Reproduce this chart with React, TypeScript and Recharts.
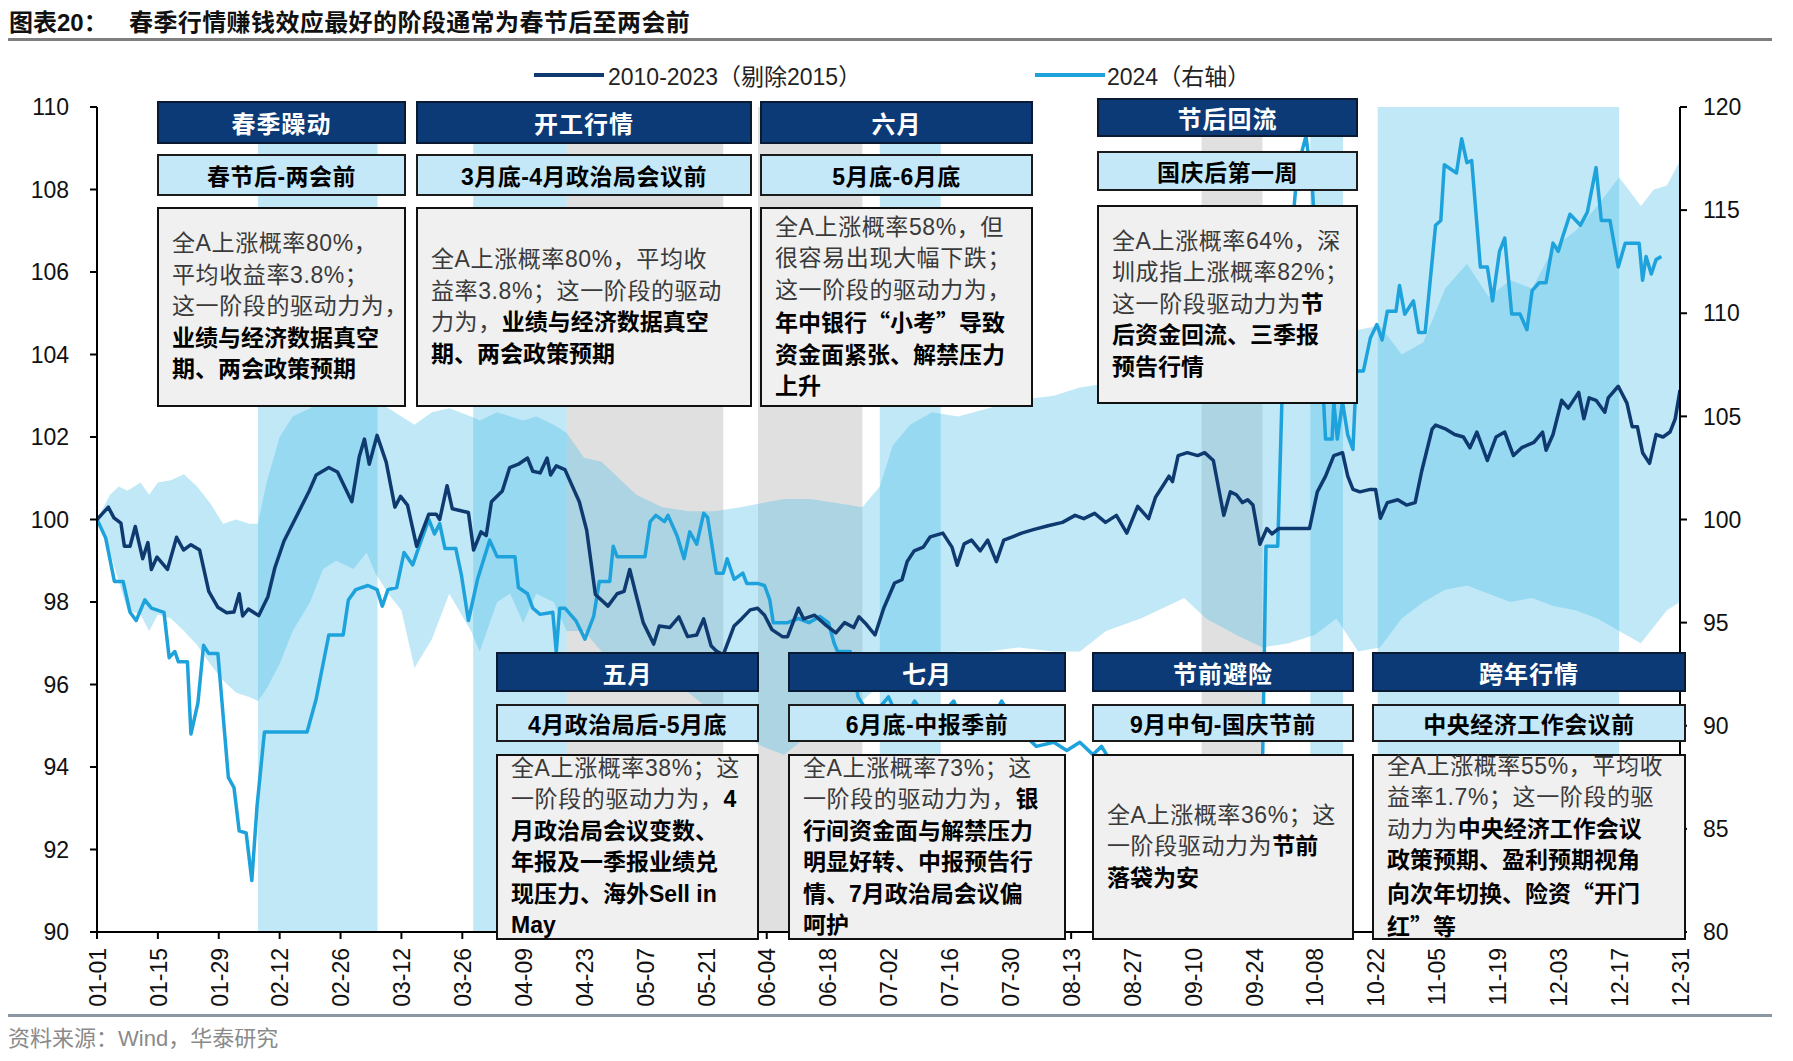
import React from "react";
import { ComposedChart, Line, Area, XAxis, YAxis, ReferenceArea } from "recharts";

// x axis: day of year (0 = 01-01), ticks every 14 days
const tickDays = [0, 14, 28, 42, 56, 70, 84, 98, 112, 126, 140, 154, 168, 182, 196, 210, 224, 238, 252, 266, 280, 294, 308, 322, 336, 350, 364];
const tickLabels = ["01-01", "01-15", "01-29", "02-12", "02-26", "03-12", "03-26", "04-09", "04-23", "05-07", "05-21", "06-04", "06-18", "07-02", "07-16", "07-30", "08-13", "08-27", "09-10", "09-24", "10-08", "10-22", "11-05", "11-19", "12-03", "12-17", "12-31"];
const leftTicks = [90, 92, 94, 96, 98, 100, 102, 104, 106, 108, 110];
const rightTicks = [80, 85, 90, 95, 100, 105, 110, 115, 120];

// 2010-2023 (excl. 2015) average path, left axis: [day, value]
const avgSeries: number[][] = [
  [0, 100], [2.6, 100.3], [3.9, 100.04], [5.5, 99.91], [6.3, 99.35], [7.6, 99.35], [8.8, 99.83], [10.5, 99.05], [11.7, 99.44], [12.5, 98.79],
  [13.8, 99.09], [16.2, 98.79], [18.3, 99.57], [19.9, 99.26], [21.6, 99.39], [23.6, 99.26], [25.7, 98.26], [27.8, 97.87], [29.8, 97.74], [31.5, 97.76],
  [32.7, 98.2], [33.5, 97.66], [34.8, 97.83], [37.2, 97.67], [39.3, 98.13], [40.9, 98.83], [43, 99.48], [45.5, 100.0], [48.8, 100.69], [50.4, 101.08],
  [53.3, 101.26], [55.3, 101.15], [58.6, 100.43], [60.3, 101.52], [61.5, 101.95], [62.6, 101.34], [64.4, 102.04], [66.5, 101.39], [68.5, 100.3], [69.8, 100.56],
  [71.4, 100.35], [73.5, 99.35], [76.3, 100.13], [78, 100.13], [78.8, 100.0], [80.5, 100.82], [81.7, 100.26], [85.4, 100.17], [86.6, 99.26], [88.3, 99.7],
  [89.5, 99.61], [90.7, 100.43], [93.2, 100.69], [94.9, 101.26], [96.9, 101.34], [99, 101.49], [100.2, 101.17], [101.9, 101.13], [103.5, 101.49], [104.3, 101.08],
  [105.6, 101.3], [107.6, 101.21], [110.9, 100.43], [112.6, 99.74], [114.6, 98.18], [117.5, 97.9], [119.6, 98.2], [121.2, 98.26], [122.5, 98.79], [123.9, 98.2],
  [125.6, 97.5], [128, 96.98], [129.3, 97.42], [131.7, 97.38], [133.8, 97.64], [135.8, 97.16], [137.9, 97.2], [139.5, 97.59], [141.2, 96.94], [142.4, 96.81],
  [144, 96.72], [146.5, 97.42], [148.2, 97.59], [150.2, 97.81], [151.9, 97.85], [153.5, 97.68], [155.2, 97.33], [157.6, 97.16], [158.8, 97.16], [161.3, 97.85],
  [162.5, 97.59], [165, 97.68], [167.8, 97.42], [169.9, 97.25], [171.9, 97.5], [174, 97.38], [175.2, 97.64], [176.9, 97.46], [178.9, 97.2], [180.9, 97.85],
  [183.4, 98.46], [185.1, 98.54], [186.3, 98.98], [187.9, 99.24], [190, 99.33], [191.6, 99.58], [194.5, 99.67], [196.6, 99.33], [197.8, 98.89], [199.4, 99.41],
  [201.1, 99.5], [203.1, 99.24], [204.8, 99.5], [206.8, 98.98], [208.5, 99.5], [210.5, 99.58], [212.6, 99.67], [215.5, 99.76], [218.7, 99.85], [222, 99.93],
  [224.9, 100.1], [226.9, 100.02], [229.4, 100.15], [231.9, 99.93], [234.4, 100.1], [236.8, 99.67], [239.3, 100.32], [241.8, 100.02], [243.4, 100.54], [245, 100.8],
  [246.5, 101.05], [247.3, 100.92], [248.6, 101.55], [250.7, 101.62], [253.1, 101.55], [254.7, 101.62], [256.7, 101.43], [258.3, 100.54], [259.1, 100.1], [260.6, 100.67],
  [262, 100.6], [263.4, 100.41], [264.6, 100.48], [265.8, 100.35], [267.4, 99.4], [269, 99.78], [270.2, 99.65], [271.7, 99.78], [278.8, 99.78], [280.6, 100.67],
  [282.5, 101.05], [284.4, 101.55], [286.4, 101.62], [287.6, 101.05], [288.8, 100.73], [290.4, 100.67], [292.8, 100.73], [294, 100.73], [295.1, 100.03], [296.7, 100.41],
  [299.1, 100.48], [301.1, 100.35], [303.1, 100.41], [304.6, 101.17], [307, 102.19], [307.8, 102.29], [310.2, 102.19], [312.2, 102.06], [314.2, 102.0], [315.7, 101.74],
  [317.3, 102.12], [319.7, 101.43], [321.7, 102.0], [323.7, 102.12], [325.7, 101.55], [327.6, 101.74], [330.4, 101.87], [332.4, 102.12], [333.2, 101.68], [334.8, 102.06],
  [336.8, 102.89], [338.3, 102.7], [340.7, 103.08], [341.9, 102.44], [343.1, 102.95], [344.7, 102.89], [346.7, 102.6], [347.5, 102.95], [349.8, 103.23], [351.8, 102.82],
  [353, 102.25], [354.2, 102.25], [355.4, 101.62], [357, 101.36], [358.5, 102.06], [360.1, 102.0], [361.7, 102.12], [362.9, 102.44], [364, 103.14],
];

// 2024 path, right axis: [day, value]
const series2024: number[][] = [
  [0, 100], [2, 99.1], [4, 97.0], [6, 97.0], [7.6, 95.5], [9, 95.1], [11, 96.1], [12.5, 95.7], [15.4, 95.5], [16.6, 93.3],
  [17.9, 93.6], [18.7, 93.1], [20.8, 93.1], [21.6, 89.6], [23.2, 91.1], [24.5, 93.9], [25.7, 93.5], [27.8, 93.5], [30.2, 87.5], [31.5, 87.0],
  [32.7, 84.9], [34.3, 84.8], [35.6, 82.5], [36.8, 86.1], [38.5, 89.7], [48.3, 89.7], [50.4, 91.3], [53.3, 94.4], [56.6, 94.4], [57.8, 96.1],
  [59.5, 96.6], [62.3, 96.8], [64.4, 96.6], [65.6, 95.8], [66.9, 96.6], [68.9, 96.7], [70.6, 98.4], [72.6, 97.8], [73.9, 98.6], [76.3, 100],
  [77.6, 99.3], [78.8, 99.8], [80, 98.6], [82.5, 98.6], [83.8, 97.3], [85.4, 95.1], [87.5, 97.1], [90.3, 99.0], [92, 98.2], [96.1, 98.2],
  [96.9, 96.7], [99, 96.4], [100.2, 95.7], [101.9, 95.4], [104.8, 95.5], [105.6, 93.6], [106.4, 95.7], [107.6, 95.7], [110.1, 95.1], [112.2, 94.2],
  [114.2, 95.3], [115.5, 97.0], [117.9, 97.0], [118.7, 98.7], [119.6, 98.2], [126, 98.2], [127.2, 99.9], [128.5, 100.2], [130.5, 99.9], [131.3, 100.2],
  [133.4, 99.2], [135, 98.1], [136.3, 99.4], [137.9, 98.8], [139.5, 100.3], [140.4, 100.1], [142.4, 97.4], [144, 97.4], [144.9, 98.1], [146.5, 97.1],
  [148.5, 97.4], [149.4, 96.9], [151.9, 96.9], [153.5, 96.8], [154.7, 96.1], [155.5, 95.0], [158.8, 95.0], [161.3, 95.2], [163.7, 95.0], [166.2, 95.3],
  [168.2, 95.0], [169.5, 94.0], [170.3, 93.6], [173.2, 93.6], [175, 91.4], [178, 90.4], [182, 91.4], [185, 90.0], [188, 91.2], [192, 90.0],
  [197, 91.2], [200, 89.6], [205, 90.0], [208, 91.2], [212, 89.8], [216, 89.0], [220, 89.2], [223, 88.8], [226, 89.2], [229, 88.6],
  [231, 89.0], [235, 87.6], [240, 86.6], [245, 85.8], [250, 85.2], [255, 85.8], [260, 84.8], [265, 84.4], [268, 88.0], [268.8, 98.7],
  [271.5, 98.7], [272.5, 106], [274, 112], [276, 117], [278, 118.6], [279.5, 116], [281, 110], [282.5, 103.9], [284, 103.9], [284.4, 105.7],
  [285.2, 103.9], [286.4, 105.7], [287.6, 104.1], [288.8, 103.4], [289.6, 107.2], [291.2, 107.2], [292.8, 108.8], [294.3, 109.45], [295.5, 108.7], [296.7, 110.1],
  [298.7, 110.1], [299.5, 111.35], [300.7, 109.95], [302.7, 110.6], [303.9, 109.07], [305.4, 109.07], [307.8, 114.27], [309, 114.5], [309.8, 117.2], [312.6, 116.8],
  [313.8, 118.46], [315, 117.3], [316.1, 117.4], [318.1, 112.24], [319.7, 112.24], [320.9, 110.6], [322.5, 113.0], [323.7, 113.64], [325.3, 109.96], [327.2, 109.96],
  [328.8, 109.2], [330, 111.1], [331.6, 111.48], [333.2, 111.48], [334.8, 113.4], [336, 113.0], [337.1, 113.76], [338.7, 114.8], [341.1, 114.27], [342.7, 114.9],
  [344.7, 117.06], [345.9, 114.5], [347.9, 114.5], [349.8, 112.24], [351.4, 113.4], [354.6, 113.4], [355.4, 111.6], [356.2, 112.75], [357.4, 111.9], [358.5, 112.6],
  [359.7, 112.75],
];

// historical range band, left axis: [day, low, high]
const rangeSeries: number[][] = [
  [0, 100, 100], [3, 99.2, 100.6], [5, 98.5, 100.8], [7, 97.8, 100.7], [10, 97.7, 100.9], [12, 97.3, 100.6], [14, 97.7, 100.9], [17, 97.6, 100.95],
  [20, 97.3, 101.1], [23, 96.96, 100.8], [26, 96.5, 100.4], [29, 96.1, 99.9], [32, 95.8, 100.0], [35, 95.7, 99.9], [37, 95.6, 99.9], [39, 95.9, 100.9],
  [42, 96.5, 102.0], [45, 97.3, 102.5], [49, 98.0, 102.7], [52, 98.8, 102.9], [55, 99.0, 103.0], [59, 98.8, 103.1], [62, 99.2, 103.0], [64, 98.7, 102.9],
  [67, 98.2, 102.7], [70, 97.8, 102.5], [73, 96.4, 102.3], [77, 97.1, 102.6], [81, 98.2, 102.7], [86, 97.3, 102.5], [88, 96.8, 102.4], [92, 98.0, 102.6],
  [95, 98.2, 102.5], [98, 97.5, 102.4], [101, 98.2, 102.5], [105, 98.0, 102.3], [108, 97.3, 102.1], [112, 97.3, 101.5], [116, 96.8, 101.4], [120, 96.5, 101.0],
  [124, 96.6, 100.6], [130, 96.2, 100.3], [136, 95.8, 100.2], [142, 95.3, 100.2], [148, 94.8, 100.3], [153, 94.5, 100.4], [158, 94.3, 100.5], [164, 94.8, 100.5],
  [170, 95.2, 100.4], [176, 95.6, 100.3], [180, 96.0, 100.8], [183, 96.3, 101.8], [187, 96.5, 102.3], [192, 96.7, 102.6], [198, 96.8, 102.5], [205, 96.8, 102.7],
  [212, 96.9, 102.9], [220, 96.8, 103.0], [226, 96.8, 103.2], [232, 97.3, 103.3], [240, 97.6, 103.4], [246, 97.9, 103.5], [250, 98.1, 103.6], [255, 97.6, 103.7],
  [262, 97.2, 103.8], [268, 96.9, 103.9], [274, 97.0, 104.0], [280, 97.2, 104.2], [285, 97.6, 104.4], [290, 96.8, 104.6], [295, 96.9, 104.7], [300, 97.6, 104.0],
  [305, 98.0, 104.3], [310, 98.3, 105.6], [315, 98.4, 106.2], [320, 98.2, 105.4], [325, 98.0, 105.8], [330, 98.1, 105.6], [335, 97.9, 106.6], [340, 97.8, 107.0],
  [345, 97.6, 107.6], [350, 97.3, 108.3], [355, 97.0, 107.6], [358, 97.4, 108.0], [361, 97.8, 108.1], [364, 98.0, 108.7],
];

// shaded windows: [startDay, endDay]
const upWindows = [[37, 64.5], [86.5, 108], [180, 194], [279, 286.5], [294.5, 350]];
const downWindows = [[108, 144], [152, 176], [254, 268]];

const phaseTitles = ["春季躁动", "开工行情", "六月", "节后回流", "五月", "七月", "节前避险", "跨年行情"];
const phaseWindows = ["春节后-两会前", "3月底-4月政治局会议前", "5月底-6月底", "国庆后第一周", "4月政治局后-5月底", "6月底-中报季前", "9月中旬-国庆节前", "中央经济工作会议前"];
// * toggles bold
const phaseNotes = [
  ["全A上涨概率80%，", "平均收益率3.8%；", "这一阶段的驱动力为，", "*业绩与经济数据真空", "*期、两会政策预期"],
  ["全A上涨概率80%，平均收", "益率3.8%；这一阶段的驱动", "力为，*业绩与经济数据真空", "*期、两会政策预期"],
  ["全A上涨概率58%，但", "很容易出现大幅下跌；", "这一阶段的驱动力为，", "*年中银行“小考”导致", "*资金面紧张、解禁压力", "*上升"],
  ["全A上涨概率64%，深", "圳成指上涨概率82%；", "这一阶段驱动力为*节", "*后资金回流、三季报", "*预告行情"],
  ["全A上涨概率38%；这", "一阶段的驱动力为，*4", "*月政治局会议变数、", "*年报及一季报业绩兑", "*现压力、海外Sell in", "*May"],
  ["全A上涨概率73%；这", "一阶段的驱动力为，*银", "*行间资金面与解禁压力", "*明显好转、中报预告行", "*情、7月政治局会议偏", "*呵护"],
  ["全A上涨概率36%；这", "一阶段驱动力为*节前", "*落袋为安"],
  ["全A上涨概率55%，平均收", "益率1.7%；这一阶段的驱", "动力为*中央经济工作会议", "*政策预期、盈利预期视角", "*向次年切换、险资“开门", "*红”等"],
];

const avgData = avgSeries.map(([d, v]) => ({ d, v }));
const data2024 = series2024.map(([d, v]) => ({ d, v }));
const rangeData = rangeSeries.map(([d, lo, hi]) => ({ d, r: [lo, hi] }));

// annotation box layout (pixels)
const topRow = { hy: 101, hh: 43, sy: 154, sh: 42, ty: 207, th: 200 };
const topRowAlt = { hy: 98, hh: 39, sy: 151, sh: 40, ty: 205, th: 199 };
const bottomRow = { hy: 652, hh: 40, sy: 704, sh: 38, ty: 754, th: 186 };
const boxLayout = [
  { x: 157, w: 249, row: topRow },
  { x: 416, w: 336, row: topRow },
  { x: 760, w: 273, row: topRow },
  { x: 1097, w: 261, row: topRowAlt },
  { x: 496, w: 263, row: bottomRow },
  { x: 788, w: 278, row: bottomRow },
  { x: 1092, w: 262, row: bottomRow },
  { x: 1372, w: 314, row: bottomRow },
];

const LATIN = '"Liberation Sans", Arial, "Noto Sans CJK SC", sans-serif';
const CJK = '"Noto Sans CJK SC", sans-serif';
const BAND = "#50bee9";
const BAND_OP = 0.36;

const XTick = (props: any) => {
  const { x, y, payload } = props;
  const i = tickDays.indexOf(payload.value);
  return (
    <text x={x} y={y} transform={`rotate(-90 ${x} ${y})`} textAnchor="end" dy="0.38em" fontSize={23} fontFamily={LATIN} fill="#111">
      {tickLabels[i]}
    </text>
  );
};

function rich(line: string) {
  return line.split("*").map((seg, k) => {
    const bold = k % 2 === 1;
    const parts = seg.split(/([“”])/);
    return (
      <span key={k} style={bold ? { fontWeight: 700, color: "#000" } : { fontWeight: 400, color: "#3a3a3a", letterSpacing: 0.6 }}>
        {parts.map((p, j) => (p === "“" || p === "”" ? <span key={j} style={{ fontFamily: CJK }}>{p}</span> : p))}
      </span>
    );
  });
}

function PhaseBox({ i }: { i: number }) {
  const { x, w, row } = boxLayout[i];
  const base: React.CSSProperties = { position: "absolute", left: x, width: w, boxSizing: "border-box", display: "flex" };
  return (
    <>
      <div style={{ ...base, top: row.hy, height: row.hh, background: "#0b3a77", border: "2px solid #0a1a33", color: "#fff", fontFamily: CJK, fontWeight: 700, fontSize: 24, alignItems: "center", justifyContent: "center", letterSpacing: 1 }}>
        {phaseTitles[i]}
      </div>
      <div style={{ ...base, top: row.sy, height: row.sh, background: "#c4e8f8", border: "2.5px solid #1b1b1b", color: "#000", fontFamily: LATIN, fontWeight: 700, fontSize: 23, alignItems: "center", justifyContent: "center", letterSpacing: 0.5 }}>
        {phaseWindows[i]}
      </div>
      <div style={{ ...base, top: row.ty, height: row.th, background: "#f0f0f0", border: "2.5px solid #111", flexDirection: "column", justifyContent: "center", paddingLeft: 13, fontFamily: LATIN, fontSize: 23, lineHeight: "31.5px", whiteSpace: "nowrap" }}>
        {phaseNotes[i].map((ln, k) => {
          // a line starting with * is fully bold; handled by rich() via leading empty segment
          return <div key={k}>{rich(ln)}</div>;
        })}
      </div>
    </>
  );
}

export default function App() {
  return (
    <div style={{ position: "absolute", left: 0, top: 0, width: 1793, height: 1061, background: "#fff", overflow: "hidden" }}>
      <div style={{ position: "absolute", left: 9, top: 6, fontFamily: LATIN, fontWeight: 700, fontSize: 24, lineHeight: "30px", color: "#111", whiteSpace: "nowrap" }}>
        <span style={{ fontFamily: CJK }}>图表</span>20<span style={{ fontFamily: CJK }}>：</span>
      </div>
      <div style={{ position: "absolute", left: 129, top: 6, fontFamily: CJK, fontWeight: 700, fontSize: 24, lineHeight: "30px", color: "#111", whiteSpace: "nowrap", letterSpacing: 0.4 }}>
        春季行情赚钱效应最好的阶段通常为春节后至两会前
      </div>
      <div style={{ position: "absolute", left: 8, top: 38, width: 1764, height: 3, background: "#7f7f7f" }} />

      <ComposedChart width={1793} height={1061} margin={{ top: 107, right: 33, bottom: 49, left: 17 }}>
        {upWindows.map(([a, b], k) => (
          <ReferenceArea key={"u" + k} x1={a} x2={b} yAxisId="left" fill={BAND} fillOpacity={BAND_OP} stroke="none" />
        ))}
        {downWindows.map(([a, b], k) => (
          <ReferenceArea key={"g" + k} x1={a} x2={b} yAxisId="left" fill="#aaaaaa" fillOpacity={BAND_OP} stroke="none" />
        ))}
        <XAxis
          type="number"
          dataKey="d"
          domain={[0, 364]}
          ticks={tickDays}
          interval={0}
          height={80}
          tick={<XTick />}
          tickSize={7}
          tickMargin={9}
          axisLine={{ stroke: "#000", strokeWidth: 2 }}
          tickLine={{ stroke: "#000", strokeWidth: 2 }}
          allowDataOverflow
        />
        <YAxis
          yAxisId="left"
          domain={[90, 110]}
          ticks={leftTicks}
          interval={0}
          width={80}
          tickSize={7}
          tickMargin={21}
          tick={{ fontSize: 23, fontFamily: LATIN, fill: "#111" }}
          axisLine={{ stroke: "#000", strokeWidth: 2 }}
          tickLine={{ stroke: "#000", strokeWidth: 2 }}
        />
        <YAxis
          yAxisId="right"
          orientation="right"
          domain={[80, 120]}
          ticks={rightTicks}
          interval={0}
          width={80}
          tickSize={7}
          tickMargin={16}
          tick={{ fontSize: 23, fontFamily: LATIN, fill: "#111" }}
          axisLine={{ stroke: "#000", strokeWidth: 2 }}
          tickLine={{ stroke: "#000", strokeWidth: 2 }}
        />
        <Area data={rangeData} dataKey="r" yAxisId="left" type="linear" stroke="none" fill={BAND} fillOpacity={BAND_OP} isAnimationActive={false} />
        <Line data={data2024} dataKey="v" yAxisId="right" type="linear" stroke="#1ea2dc" strokeWidth={3.5} dot={false} strokeLinejoin="round" isAnimationActive={false} />
        <Line data={avgData} dataKey="v" yAxisId="left" type="linear" stroke="#0e3a70" strokeWidth={3.5} dot={false} strokeLinejoin="round" isAnimationActive={false} />
      </ComposedChart>

      {/* legend */}
      <div style={{ position: "absolute", left: 534, top: 73, width: 70, height: 4, background: "#0e3a70" }} />
      <div style={{ position: "absolute", left: 608, top: 60, fontFamily: LATIN, fontSize: 23, lineHeight: "30px", color: "#222", whiteSpace: "nowrap" }}>
        2010-2023<span style={{ fontFamily: CJK }}>（剔除</span>2015<span style={{ fontFamily: CJK }}>）</span>
      </div>
      <div style={{ position: "absolute", left: 1035, top: 73, width: 70, height: 4, background: "#1ea2dc" }} />
      <div style={{ position: "absolute", left: 1107, top: 60, fontFamily: LATIN, fontSize: 23, lineHeight: "30px", color: "#222", whiteSpace: "nowrap" }}>
        2024<span style={{ fontFamily: CJK }}>（右轴）</span>
      </div>

      {phaseTitles.map((_, i) => (
        <PhaseBox key={i} i={i} />
      ))}

      <div style={{ position: "absolute", left: 8, top: 1014, width: 1764, height: 2.5, background: "#8b97a3" }} />
      <div style={{ position: "absolute", left: 8, top: 1021, fontFamily: LATIN, fontSize: 22, lineHeight: "30px", color: "#8a8a8a", whiteSpace: "nowrap" }}>
        <span style={{ fontFamily: CJK }}>资料来源：</span>Wind<span style={{ fontFamily: CJK }}>，华泰研究</span>
      </div>
    </div>
  );
}
